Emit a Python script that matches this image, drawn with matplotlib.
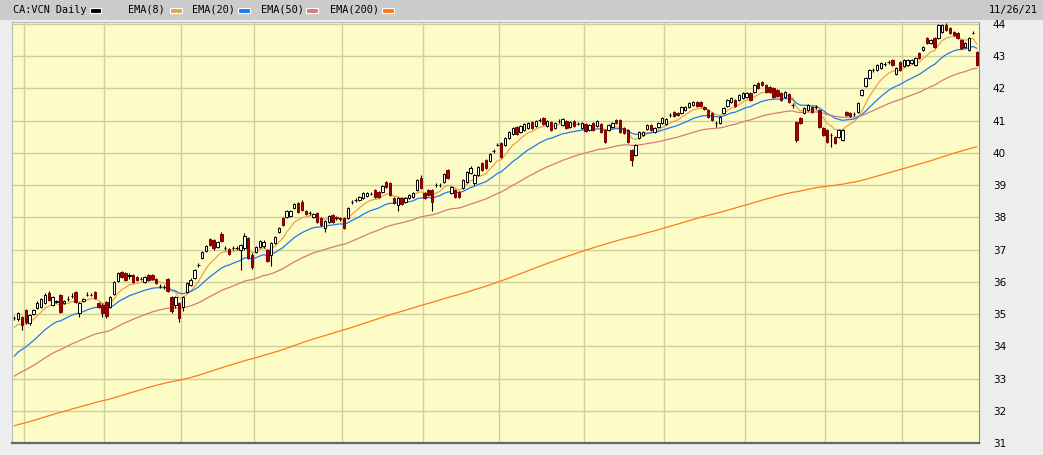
import numpy as np
import pandas as pd
import matplotlib
matplotlib.use("Agg")
import matplotlib.pyplot as plt
from matplotlib.patches import Rectangle

plt.rcParams['font.family'] = ['DejaVu Sans']

symbol_title = "CA:VCN Daily"
last_date = "2021-11-26"
last_date_label = "11/26/21"
tsx_holidays = ["2020-12-25", "2020-12-28", "2021-01-01", "2021-02-15", "2021-04-02",
                "2021-05-24", "2021-07-01", "2021-08-02", "2021-09-06", "2021-10-11"]

opens = [
    34.88, 34.85, 34.90, 35.12, 34.72, 35.00, 35.19, 35.22, 35.34, 35.66,
    35.28, 35.37, 35.60, 35.34, 35.47, 35.56, 35.69, 35.03, 35.42, 35.60,
    35.60, 35.69, 35.34, 35.28, 35.37, 35.22, 35.62, 36.03, 36.30, 36.27,
    36.18, 36.21, 36.15, 36.09, 36.00, 36.21, 36.21, 36.09, 35.87, 35.84,
    36.09, 35.53, 35.28, 35.34, 35.22, 35.68, 35.90, 36.12, 36.52, 36.74,
    36.96, 37.33, 37.30, 37.08, 37.48, 37.05, 37.02, 37.05, 37.05, 36.99,
    37.05, 37.36, 36.83, 36.93, 37.08, 37.10, 36.99, 36.83, 37.20, 37.55,
    37.98, 38.00, 38.04, 38.29, 38.45, 38.48, 38.20, 38.14, 38.00, 38.14,
    37.98, 37.67, 37.86, 38.07, 38.00, 37.98, 37.98, 37.98, 38.48, 38.54,
    38.54, 38.60, 38.67, 38.73, 38.85, 38.79, 38.79, 39.10, 39.07, 38.60,
    38.38, 38.60, 38.48, 38.60, 38.63, 38.85, 39.22, 38.76, 38.85, 38.85,
    39.00, 39.00, 39.10, 39.47, 38.76, 38.85, 38.79, 38.91, 39.10, 39.38,
    39.07, 39.31, 39.69, 39.78, 39.75, 40.06, 40.25, 40.30, 40.25, 40.46,
    40.60, 40.80, 40.65, 40.70, 40.77, 40.96, 40.84, 41.02, 41.08, 40.84,
    40.96, 40.77, 40.99, 40.87, 40.99, 40.80, 40.99, 40.90, 40.77, 40.90,
    40.71, 40.93, 40.84, 40.90, 40.71, 40.71, 40.80, 41.02, 41.02, 40.77,
    40.71, 40.09, 39.94, 40.46, 40.56, 40.74, 40.87, 40.65, 40.80, 40.93,
    40.90, 41.18, 41.27, 41.24, 41.24, 41.33, 41.42, 41.49, 41.58, 41.58,
    41.42, 41.33, 41.24, 40.93, 40.93, 41.24, 41.46, 41.58, 41.64, 41.64,
    41.70, 41.74, 41.86, 41.89, 42.17, 42.20, 42.11, 42.04, 42.01, 41.95,
    41.86, 41.74, 41.83, 41.49, 40.96, 41.08, 41.24, 41.33, 41.42, 41.42,
    41.33, 40.77, 40.71, 40.56, 40.49, 40.49, 40.40, 41.27, 41.24, 41.20,
    41.27, 41.80, 42.08, 42.32, 42.57, 42.57, 42.63, 42.76, 42.82, 42.88,
    42.45, 42.82, 42.70, 42.73, 42.79, 42.73, 43.10, 43.19, 43.57, 43.41,
    43.57, 43.57, 43.75, 43.97, 43.88, 43.75, 43.72, 43.50, 43.29, 43.19,
    43.72, 43.13,
]
closes = [
    34.88, 35.03, 34.66, 34.75, 34.97, 35.12, 35.34, 35.47, 35.60, 35.44,
    35.53, 35.39, 35.07, 35.40, 35.47, 35.56, 35.37, 35.34, 35.46, 35.60,
    35.60, 35.50, 35.22, 35.03, 34.94, 35.53, 36.00, 36.27, 36.15, 36.06,
    36.20, 36.00, 36.06, 36.09, 36.15, 36.06, 36.09, 35.97, 35.87, 35.84,
    35.72, 35.10, 35.53, 34.88, 35.53, 35.96, 36.06, 36.37, 36.52, 36.93,
    37.11, 37.14, 37.05, 37.24, 37.27, 37.05, 36.86, 37.05, 37.06, 37.14,
    37.42, 36.74, 36.46, 37.08, 37.27, 37.25, 36.65, 37.20, 37.39, 37.67,
    37.76, 38.20, 38.20, 38.42, 38.17, 38.23, 38.11, 38.14, 38.11, 37.86,
    37.76, 37.89, 38.04, 37.86, 37.98, 37.96, 37.67, 38.29, 38.48, 38.54,
    38.63, 38.76, 38.76, 38.73, 38.63, 38.63, 38.97, 38.94, 38.70, 38.45,
    38.60, 38.42, 38.60, 38.70, 38.76, 39.16, 38.90, 38.60, 38.70, 38.48,
    39.00, 39.00, 39.35, 39.22, 38.94, 38.63, 38.63, 39.16, 39.41, 39.53,
    39.31, 39.56, 39.47, 39.53, 39.97, 40.06, 40.25, 39.87, 40.46, 40.65,
    40.77, 40.60, 40.84, 40.90, 40.93, 40.77, 40.99, 41.02, 40.90, 40.99,
    40.71, 40.93, 40.99, 41.05, 40.77, 40.96, 40.84, 40.90, 40.93, 40.68,
    40.87, 40.71, 40.99, 40.65, 40.34, 40.87, 40.93, 40.93, 40.65, 40.62,
    40.34, 39.78, 40.25, 40.65, 40.65, 40.87, 40.71, 40.77, 40.93, 41.08,
    41.05, 41.18, 41.15, 41.18, 41.42, 41.42, 41.55, 41.58, 41.46, 41.46,
    41.36, 41.11, 41.02, 40.93, 41.11, 41.39, 41.64, 41.70, 41.46, 41.80,
    41.86, 41.86, 41.64, 42.11, 42.01, 42.11, 41.89, 41.89, 41.74, 41.77,
    41.64, 41.89, 41.58, 41.49, 40.40, 40.93, 41.39, 41.49, 41.27, 41.42,
    40.80, 40.56, 40.34, 40.56, 40.31, 40.71, 40.71, 41.18, 41.15, 41.20,
    41.55, 41.95, 42.32, 42.57, 42.57, 42.73, 42.79, 42.76, 42.82, 42.73,
    42.63, 42.57, 42.88, 42.88, 42.88, 42.95, 42.95, 43.29, 43.41, 43.50,
    43.29, 43.97, 43.97, 43.81, 43.72, 43.66, 43.57, 43.26, 43.41, 43.57,
    43.72, 42.73,
]
highs = [
    34.95, 35.07, 34.95, 35.15, 35.00, 35.16, 35.40, 35.50, 35.65, 35.70,
    35.56, 35.45, 35.63, 35.45, 35.55, 35.66, 35.72, 35.38, 35.50, 35.68,
    35.66, 35.72, 35.37, 35.34, 35.40, 35.56, 36.03, 36.30, 36.33, 36.30,
    36.27, 36.25, 36.18, 36.15, 36.18, 36.24, 36.25, 36.12, 35.93, 35.90,
    36.12, 35.56, 35.56, 35.37, 35.56, 36.00, 36.12, 36.40, 36.58, 36.96,
    37.15, 37.36, 37.33, 37.27, 37.55, 37.12, 37.05, 37.10, 37.12, 37.18,
    37.50, 37.40, 36.88, 37.12, 37.30, 37.30, 37.02, 37.24, 37.42, 37.70,
    38.00, 38.23, 38.23, 38.45, 38.48, 38.55, 38.23, 38.20, 38.14, 38.17,
    38.00, 37.92, 38.07, 38.10, 38.05, 38.02, 38.00, 38.32, 38.54, 38.60,
    38.67, 38.80, 38.80, 38.78, 38.88, 38.82, 39.00, 39.13, 39.10, 38.63,
    38.63, 38.63, 38.63, 38.73, 38.80, 39.20, 39.30, 38.79, 38.88, 38.88,
    39.08, 39.08, 39.38, 39.50, 38.97, 38.88, 38.82, 39.20, 39.44, 39.60,
    39.35, 39.60, 39.72, 39.81, 40.00, 40.12, 40.30, 40.35, 40.50, 40.68,
    40.80, 40.83, 40.87, 40.93, 40.96, 40.99, 41.02, 41.08, 41.11, 41.02,
    40.99, 40.96, 41.05, 41.08, 41.02, 40.99, 41.02, 40.96, 40.96, 40.93,
    40.90, 40.96, 41.02, 40.93, 40.74, 40.90, 40.96, 41.05, 41.05, 40.80,
    40.74, 40.12, 40.28, 40.68, 40.68, 40.90, 40.90, 40.80, 40.96, 41.11,
    41.08, 41.24, 41.30, 41.27, 41.45, 41.45, 41.58, 41.61, 41.61, 41.61,
    41.45, 41.36, 41.27, 41.00, 41.14, 41.42, 41.67, 41.73, 41.67, 41.83,
    41.89, 41.89, 41.89, 42.14, 42.20, 42.23, 42.14, 42.07, 42.04, 41.98,
    41.89, 41.92, 41.86, 41.55, 41.00, 41.11, 41.42, 41.52, 41.45, 41.48,
    41.36, 40.80, 40.74, 40.62, 40.52, 40.74, 40.74, 41.30, 41.27, 41.26,
    41.58, 41.98, 42.35, 42.60, 42.63, 42.76, 42.82, 42.82, 42.88, 42.91,
    42.66, 42.85, 42.91, 42.91, 42.91, 42.98, 43.13, 43.32, 43.60, 43.53,
    43.60, 44.00, 44.00, 44.03, 43.91, 43.78, 43.75, 43.53, 43.44, 43.60,
    43.78, 43.16,
]
lows = [
    34.82, 34.80, 34.50, 34.70, 34.65, 34.97, 35.15, 35.20, 35.30, 35.40,
    35.25, 35.33, 35.03, 35.30, 35.42, 35.50, 35.34, 34.92, 35.38, 35.56,
    35.55, 35.47, 35.20, 34.92, 34.88, 35.20, 35.60, 36.00, 36.12, 36.03,
    36.10, 35.97, 36.03, 36.05, 35.97, 36.03, 36.06, 35.94, 35.80, 35.78,
    35.69, 35.03, 35.20, 34.76, 35.10, 35.65, 35.87, 36.10, 36.46, 36.70,
    36.93, 37.10, 37.00, 37.05, 37.24, 37.00, 36.83, 36.99, 36.99, 36.37,
    37.00, 36.70, 36.40, 36.90, 37.05, 37.05, 36.60, 36.50, 37.17, 37.52,
    37.73, 37.97, 38.00, 38.26, 38.14, 38.20, 38.08, 38.08, 37.97, 37.83,
    37.73, 37.55, 37.83, 37.83, 37.93, 37.90, 37.64, 37.95, 38.42, 38.48,
    38.50, 38.57, 38.64, 38.68, 38.60, 38.60, 38.76, 38.91, 38.67, 38.42,
    38.20, 38.38, 38.45, 38.57, 38.60, 38.82, 38.88, 38.57, 38.65, 38.20,
    38.95, 38.94, 39.07, 39.20, 38.73, 38.60, 38.60, 38.88, 39.07, 39.35,
    39.00, 39.28, 39.44, 39.50, 39.72, 40.00, 40.20, 39.84, 40.22, 40.43,
    40.57, 40.57, 40.62, 40.67, 40.74, 40.74, 40.81, 40.97, 40.87, 40.81,
    40.68, 40.74, 40.94, 40.84, 40.74, 40.77, 40.81, 40.85, 40.74, 40.65,
    40.68, 40.68, 40.81, 40.62, 40.30, 40.68, 40.77, 40.90, 40.62, 40.59,
    40.30, 39.60, 39.90, 40.43, 40.53, 40.71, 40.68, 40.62, 40.77, 40.90,
    40.87, 41.12, 41.12, 41.15, 41.21, 41.30, 41.39, 41.46, 41.43, 41.43,
    41.33, 41.08, 40.99, 40.80, 40.90, 41.21, 41.43, 41.55, 41.43, 41.61,
    41.67, 41.71, 41.61, 41.86, 41.98, 42.08, 41.86, 41.86, 41.71, 41.74,
    41.61, 41.71, 41.55, 41.40, 40.35, 40.90, 41.21, 41.30, 41.24, 41.36,
    40.77, 40.53, 40.30, 40.18, 40.28, 40.46, 40.37, 41.15, 41.12, 41.14,
    41.24, 41.77, 42.05, 42.29, 42.51, 42.54, 42.60, 42.70, 42.76, 42.70,
    42.42, 42.54, 42.67, 42.70, 42.76, 42.70, 42.92, 43.16, 43.38, 43.38,
    43.26, 43.54, 43.72, 43.78, 43.69, 43.63, 43.54, 43.23, 43.26, 43.16,
    43.68, 42.68,
]

# EMA settings: period, colour, value carried in from before the visible window
ema_periods = [8, 20, 50, 200]
ema_colors = ["#e9a24c", "#1f7bf0", "#d97a78", "#ff7a1a"]
ema_seeds = [34.50, 33.57, 33.00, 31.50]

price_ticks = list(range(31, 45))


def ema(values, span, seed):
    s = pd.Series([seed] + list(values))
    return s.ewm(span=span, adjust=False).mean().iloc[1:].to_numpy()


def draw_chart():
    W, H = 1043, 455
    fig = plt.figure(figsize=(W / 100, H / 100), dpi=100)
    fig.patch.set_facecolor("#eeeeee")

    def fx(x):
        return x / W

    def fy(y):
        return 1 - y / H

    # header band
    fig.patches.append(Rectangle((0, fy(20)), 1, 20 / H, transform=fig.transFigure,
                                 facecolor="#cbcbcb", edgecolor="none", zorder=0))
    mono = dict(family="DejaVu Sans Mono", fontsize=7.4, va="center")
    fig.text(fx(13), fy(10), symbol_title, **mono)
    fig.patches.append(Rectangle((fx(90), fy(13)), 11 / W, 5 / H, transform=fig.transFigure,
                                 facecolor="black", edgecolor="white", lw=0.8))
    label_x = [128, 192, 261, 330]
    swatch_x = [170, 238, 306, 382]
    for p, c, lx, sx in zip(ema_periods, ema_colors, label_x, swatch_x):
        fig.text(fx(lx), fy(10), "EMA(%d)" % p, **mono)
        fig.patches.append(Rectangle((fx(sx), fy(13)), 12 / W, 5 / H, transform=fig.transFigure,
                                     facecolor=c, edgecolor="white", lw=0.8))
    fig.text(fx(1038), fy(10), last_date_label, ha="right", **mono)

    ax = fig.add_axes([fx(12), fy(443), fx(979) - fx(12), (443 - 22) / H])
    ax.set_facecolor("#fdfcc6")

    n = len(closes)
    dates = pd.bdate_range(end=last_date, periods=n, freq="C", holidays=tsx_holidays)
    idx = np.arange(n)
    o = np.array(opens)
    c = np.array(closes)
    h = np.array(highs)
    l = np.array(lows)

    # month grid
    months = dates.month
    month_starts = [i for i in range(1, n) if months[i] != months[i - 1]]
    for m in month_starts:
        ax.axvline(m - 0.5, color="#cfcf9c", lw=1, zorder=1)
    for p in price_ticks:
        ax.axhline(p, color="#cfcf9c", lw=1, zorder=1)

    # EMAs
    for p, col, seed in zip(ema_periods, ema_colors, ema_seeds):
        ax.plot(idx, ema(closes, p, seed), color=col, lw=0.9, zorder=2)

    # candles
    up = c >= o
    ax.vlines(idx, l, h, color="black", lw=0.8, zorder=3)
    body_lo = np.minimum(o, c)
    body_h = np.abs(c - o)
    ax.bar(idx[up], body_h[up], bottom=body_lo[up], width=0.62, color="white",
           edgecolor="black", lw=0.7, zorder=4)
    ax.bar(idx[~up], body_h[~up], bottom=body_lo[~up], width=0.62, color="#a00000",
           edgecolor="#7a0000", lw=0.7, zorder=4)

    ax.set_xlim(-0.6, n - 0.4)
    ax.set_ylim(31.0, 44.06)
    ax.set_xticks([])
    ax.yaxis.tick_right()
    ax.set_yticks(price_ticks)
    ax.set_yticklabels([str(p) for p in price_ticks], fontsize=7.5)
    ax.tick_params(axis="y", length=0, pad=10)
    for side in ["left", "top"]:
        ax.spines[side].set_color("#bbbbbb")
    ax.spines["right"].set_color("#888888")
    ax.spines["bottom"].set_color("#666666")
    ax.spines["bottom"].set_linewidth(1.6)

    fig.savefig("out.png", dpi=100, facecolor=fig.get_facecolor())


if __name__ == "__main__":
    draw_chart()
